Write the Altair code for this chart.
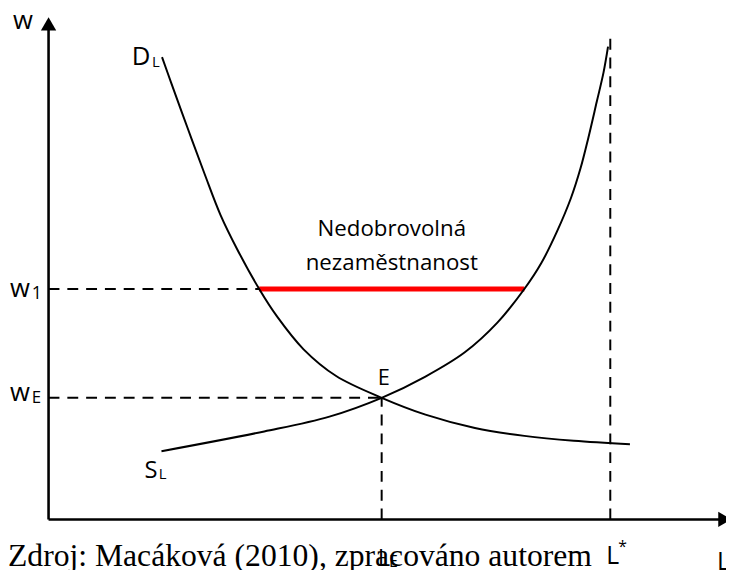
import altair as alt
import pandas as pd

# ---- values (L = labour, w = wage; L* = 100) ----
demand_L = [20.2, 21.8, 24.8, 27.8, 30.6, 33.6, 37.5, 40.7, 45.4, 51.2, 59.3, 67.1, 75.9, 84.7, 93.5, 103.5]
demand_w = [93.5, 88.4, 79.0, 69.8, 61.6, 54.6, 46.6, 41.0, 34.4, 29.0, 24.6, 21.2, 18.5, 16.9, 15.9, 15.2]

supply_L = [20.1, 38.4, 50.0, 59.3, 67.1, 74.1, 79.9, 84.7, 87.7, 90.5, 93.0, 94.7, 96.1, 97.6, 98.8, 99.6]
supply_w = [13.8, 17.8, 20.8, 24.6, 28.9, 33.8, 39.8, 46.6, 51.8, 58.2, 65.0, 71.0, 77.2, 84.5, 90.4, 95.6]

L_E = 59.3
w_E = 24.6
w_1 = 46.6
L_star = 100.0
red_from, red_to = 37.5, 84.7
L_star_top = 98.8

# view window (data units)
L_min, L_max = -7.22, 120.6
w_min, w_max = -9.6, 102.8
W, H = 726, 562

xs = alt.Scale(domain=[L_min, L_max], nice=False, zero=False)
ys = alt.Scale(domain=[w_min, w_max], nice=False, zero=False)

def X(f):
    return alt.X(f, type="quantitative", scale=xs, axis=None)

def Y(f):
    return alt.Y(f, type="quantitative", scale=ys, axis=None)

# axes
axes_df = pd.DataFrame({
    "L": [0.0, 0.0], "L2": [0.0, 120.0],
    "w": [0.0, 0.0], "w2": [99.0, 0.0],
})
axes = alt.Chart(axes_df).mark_rule(color="black", strokeWidth=2.6).encode(
    x=X("L"), x2="L2", y=Y("w"), y2="w2")

arrow_up = alt.Chart(pd.DataFrame({"L": [0.0], "w": [100.2]})).mark_point(
    shape="triangle-up", filled=True, color="black", size=240, opacity=1).encode(x=X("L"), y=Y("w"))
arrow_right = alt.Chart(pd.DataFrame({"L": [120.4], "w": [0.0]})).mark_point(
    shape="triangle-right", filled=True, color="black", size=240, opacity=1).encode(x=X("L"), y=Y("w"))

# dashed guides
dash_df = pd.DataFrame({
    "L":  [0.0, 0.0, L_E, L_star],
    "L2": [red_from, L_E, L_E, L_star],
    "w":  [w_1, w_E, 0.0, 0.0],
    "w2": [w_1, w_E, w_E, L_star_top],
})
dashes = alt.Chart(dash_df).mark_rule(color="black", strokeWidth=2, strokeDash=[11, 8]).encode(
    x=X("L"), x2="L2", y=Y("w"), y2="w2")

red = alt.Chart(pd.DataFrame({"L": [red_from], "L2": [red_to], "w": [w_1]})).mark_rule(
    color="#ff0000", strokeWidth=5).encode(x=X("L"), x2="L2", y=Y("w"))

demand = alt.Chart(pd.DataFrame({"L": demand_L, "w": demand_w})).mark_line(
    color="black", strokeWidth=2, interpolate="catmull-rom").encode(x=X("L"), y=Y("w"), order="L:Q")
supply = alt.Chart(pd.DataFrame({"L": supply_L, "w": supply_w})).mark_line(
    color="black", strokeWidth=2, interpolate="catmull-rom").encode(x=X("L"), y=Y("w"), order="L:Q")

# labels (left aligned, baseline alphabetic)
lab_text = ["w", "w", "1", "w", "E", "E", "D", "L", "S", "L", "L", "E", "L", "*", "L"]
lab_L    = [-6.34, -6.87, -2.99, -6.87, -2.99, 58.6, 14.8, 18.4, 17.1, 19.6, 58.6, 60.6, 99.3, 101.4, 119.0]
lab_w    = [99.2, 45.0, 44.6, 24.0, 23.6, 27.2, 91.8, 91.4, 8.4, 8.2, -9.4, -9.6, -9.0, -6.6, -10.2]
lab_size = [26, 26, 18, 26, 17, 22, 26, 15, 24, 15, 24, 16, 25, 16, 25]
labels = alt.Chart(pd.DataFrame({"t": lab_text, "L": lab_L, "w": lab_w, "s": lab_size})).mark_text(
    align="left", baseline="alphabetic", font="Open Sans", color="black").encode(
    x=X("L"), y=Y("w"), text="t:N", size=alt.Size("s:Q", scale=None, legend=None))

note_text = ["Nedobrovolná", "nezaměstnanost"]
note_L = [61.1, 61.1]
note_w = [57.4, 50.4]
note = alt.Chart(pd.DataFrame({"t": note_text, "L": note_L, "w": note_w})).mark_text(
    align="center", baseline="alphabetic", font="Open Sans", fontSize=22.5, color="black").encode(
    x=X("L"), y=Y("w"), text="t:N")

source = alt.Chart(pd.DataFrame({"t": ["Zdroj: Macáková (2010), zpracováno autorem"],
                                 "L": [-7.22], "w": [-9.4]})).mark_text(
    align="left", baseline="alphabetic", font="Liberation Serif", fontSize=32, color="black").encode(
    x=X("L"), y=Y("w"), text="t:N")

chart = alt.layer(axes, dashes, red, demand, supply, arrow_up, arrow_right, labels, note, source).properties(
    width=W, height=H, padding=0, autosize=alt.AutoSizeParams(type="none")
).configure_view(stroke=None)

chart.save("out.html", embed_options={"renderer": "svg", "actions": False})
